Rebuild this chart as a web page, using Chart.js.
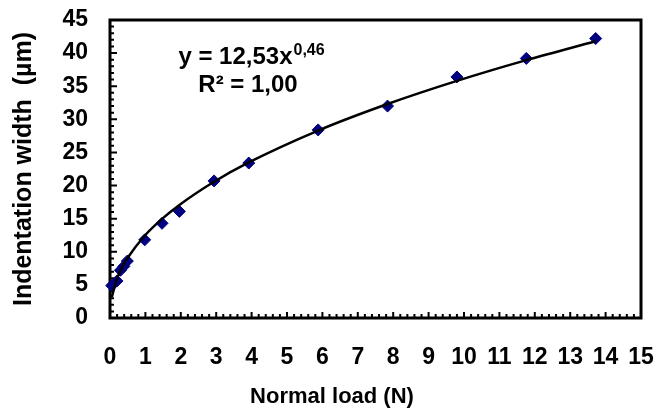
<!DOCTYPE html>
<html lang="en">
<head>
<meta charset="UTF-8">
<title>Indentation width vs normal load</title>
<script src="https://cdn.jsdelivr.net/npm/chart.js"></script>
<style>
  html, body { margin: 0; padding: 0; background: #fff; }
  #wrap { width: 659px; height: 410px; }
</style>
</head>
<body>
<div id="wrap"><canvas id="chart" width="659" height="410"></canvas></div>
<script>
// measured points (load in N, width in µm)
const loads = [0.049, 0.196, 0.294, 0.392, 0.49, 0.98, 1.47, 1.96, 2.94, 3.92, 5.88, 7.84, 9.8, 11.76, 13.72];
const widths = [4.9, 5.6, 7.2, 7.8, 8.6, 11.8, 14.3, 16.1, 20.7, 23.4, 28.4, 32.0, 36.4, 39.2, 42.2];

// power trendline printed on the figure
const fitA = 12.53;
const fitB = 0.46;
const eqMain = 'y = 12,53x';
const eqSup = '0,46';
const eqR2 = 'R² = 1,00';

const xTitle = 'Normal load (N)';
const yTitle = 'Indentation width  (µm)';

const FONT = '"Liberation Sans", Arial, sans-serif';

// frame + inward tick marks, drawn from the scales
const frameTicks = {
    id: 'frameTicks',
    beforeDatasetsDraw(chart) {
        const { ctx, scales: { x, y } } = chart;
        const l = x.getPixelForValue(0), r = x.getPixelForValue(15);
        const t = y.getPixelForValue(45), b = y.getPixelForValue(0);
        ctx.save();
        ctx.strokeStyle = '#000';
        ctx.lineWidth = 2;
        ctx.beginPath();
        for (let i = 1; i < 75; i++) {
            const px = x.getPixelForValue(i * 0.2);
            const len = i % 5 === 0 ? 6 : 4;
            ctx.moveTo(px, b);
            ctx.lineTo(px, b - len);
        }
        for (let i = 1; i < 45; i++) {
            const py = y.getPixelForValue(i);
            const len = i % 5 === 0 ? 7 : 4;
            ctx.moveTo(l, py);
            ctx.lineTo(l + len, py);
        }
        ctx.stroke();
        ctx.lineWidth = 3;
        ctx.strokeRect(l, t, r - l, b - t);
        ctx.restore();
    }
};

// equation label and x title (title sits left of the plot centre in the original)
const texts = {
    id: 'texts',
    afterDraw(chart) {
        const ctx = chart.ctx;
        ctx.save();
        ctx.fillStyle = '#000';
        ctx.textBaseline = 'alphabetic';
        ctx.font = 'bold 24px ' + FONT;
        const w1 = ctx.measureText(eqMain).width;
        ctx.font = 'bold 16px ' + FONT;
        const w2 = ctx.measureText(eqSup).width;
        const x0 = 251 - (w1 + w2) / 2;
        ctx.font = 'bold 24px ' + FONT;
        ctx.fillText(eqMain, x0, 64);
        ctx.font = 'bold 16px ' + FONT;
        ctx.fillText(eqSup, x0 + w1 + 1, 55);
        ctx.font = 'bold 24px ' + FONT;
        ctx.textAlign = 'center';
        ctx.fillText(eqR2, 248, 92);
        ctx.font = 'bold 22px ' + FONT;
        ctx.textBaseline = 'middle';
        ctx.fillText(xTitle, 332, 397);
        ctx.restore();
    }
};

const ctx = document.getElementById('chart').getContext('2d');
new Chart(ctx, {
    type: 'scatter',
    data: {
        datasets: [{
            label: 'Power fit',
            data: loads.map(x => ({ x: x, y: fitA * Math.pow(x, fitB) })),
            showLine: true,
            borderColor: '#000',
            borderWidth: 2.5,
            pointRadius: 0,
            cubicInterpolationMode: 'monotone',
            fill: false,
            clip: false
        }, {
            label: 'Measured',
            data: loads.map((x, i) => ({ x: x, y: widths[i] })),
            pointStyle: 'rectRot',
            pointRadius: 6,
            backgroundColor: '#000080',
            borderColor: '#000080',
            borderWidth: 1,
            clip: false
        }]
    },
    options: {
        responsive: false,
        animation: false,
        layout: { padding: { top: 20, right: 18, bottom: 0, left: 0 } },
        plugins: {
            legend: { display: false },
            tooltip: { enabled: false }
        },
        scales: {
            x: {
                type: 'linear',
                min: 0,
                max: 15,
                grid: { display: false, drawTicks: false },
                border: { display: false },
                ticks: {
                    stepSize: 1,
                    autoSkip: false,
                    maxRotation: 0,
                    padding: 26,
                    color: '#000',
                    font: { family: FONT, size: 23, weight: 'bold' }
                },
                afterFit(scale) {
                    scale.height = 92;
                    scale.paddingLeft = 0;
                    scale.paddingRight = 0;
                }
            },
            y: {
                min: 0,
                max: 45,
                grid: { display: false, drawTicks: false },
                border: { display: false },
                ticks: {
                    stepSize: 5,
                    padding: 22,
                    color: '#000',
                    font: { family: FONT, size: 23, weight: 'bold' }
                },
                title: {
                    display: true,
                    text: yTitle,
                    color: '#000',
                    padding: { top: 9, bottom: 0 },
                    font: { family: FONT, size: 25, weight: 'bold' }
                },
                afterFit(scale) {
                    scale.width = 110;
                    scale.paddingTop = 0;
                    scale.paddingBottom = 0;
                }
            }
        }
    },
    plugins: [frameTicks, texts]
});
</script>
</body>
</html>
